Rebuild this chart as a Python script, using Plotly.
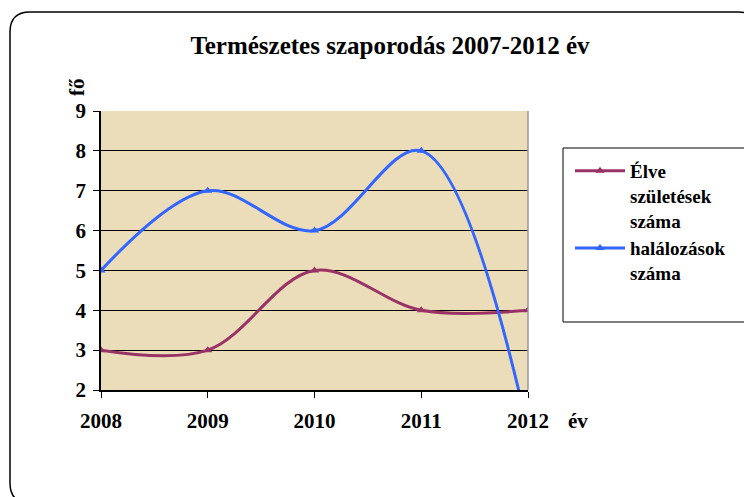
import plotly.graph_objects as go

years = [2008, 2009, 2010, 2011, 2012]
births = [3, 3, 5, 4, 4]
deaths = [5, 7, 6, 8, 1]
series_names = ["<b>Élve<br>születések<br>száma</b>", "<b>halálozások<br>száma</b>"]
y_ticks = [2, 3, 4, 5, 6, 7, 8, 9]

W, H = 752, 497
OFF = 8  # page body margin offset
L, R, T, B = 101 - OFF, 528 - OFF, 111 - OFF, 390 - OFF

def px(x):
    return (x - OFF - L) / (R - L)

def py(y):
    return (B - (y - OFF)) / (B - T)

FONT = "Liberation Serif, Times New Roman, serif"

fig = go.Figure()
fig.add_trace(go.Scatter(
    x=years, y=births, name=series_names[0], mode="lines+markers",
    line=dict(color="#993366", width=3, shape="spline", smoothing=1),
    marker=dict(symbol="triangle-up", size=8, color="#993366"),
))
fig.add_trace(go.Scatter(
    x=years, y=deaths, name=series_names[1], mode="lines+markers",
    line=dict(color="#3366FF", width=3, shape="spline", smoothing=1),
    marker=dict(symbol="triangle-up", size=8, color="#3366FF"),
))

# rounded outer frame
x0, x1, y0, y1, r = 10, 758, 12, 503, 20
path = (f"M {px(x0)},{py(y0 + r)} L {px(x0)},{py(y1 - r)} Q {px(x0)},{py(y1)} {px(x0 + r)},{py(y1)} "
        f"L {px(x1 - r)},{py(y1)} Q {px(x1)},{py(y1)} {px(x1)},{py(y1 - r)} "
        f"L {px(x1)},{py(y0 + r)} Q {px(x1)},{py(y0)} {px(x1 - r)},{py(y0)} "
        f"L {px(x0 + r)},{py(y0)} Q {px(x0)},{py(y0)} {px(x0)},{py(y0 + r)} Z")
fig.add_shape(type="path", path=path, xref="paper", yref="paper",
              line=dict(color="black", width=1.5), layer="below")
# right border of plot area (gray)
fig.add_shape(type="line", xref="paper", yref="paper", x0=1, x1=1, y0=0, y1=1,
              line=dict(color="#9a9a9a", width=1.5))
# legend box
fig.add_shape(type="rect", xref="paper", yref="paper",
              x0=px(563), x1=px(745), y0=py(322), y1=py(148),
              line=dict(color="black", width=1), fillcolor="white", layer="below")

fig.update_layout(
    width=W, height=H,
    margin=dict(l=L, r=W - R, t=T, b=H - B),
    paper_bgcolor="white",
    plot_bgcolor="#EBDCBA",
    title=dict(text="<b>Természetes szaporodás 2007-2012 év</b>",
               x=(390 - OFF) / W, xanchor="center", y=1 - (45 - OFF) / H, yanchor="middle",
               font=dict(family=FONT, size=25, color="black")),
    font=dict(family=FONT, color="black"),
    showlegend=True,
    legend=dict(
        x=px(570), y=py(152), xanchor="left", yanchor="top",
        borderwidth=0, bgcolor="rgba(0,0,0,0)", valign="top",
        font=dict(family=FONT, size=19, color="black"),
        tracegroupgap=2, itemwidth=50,
    ),
    xaxis=dict(
        range=[2008, 2012], tickmode="array", tickvals=years,
        ticktext=[f"<b>{y}</b>" for y in years],
        tickfont=dict(family=FONT, size=21, color="black"),
        ticks="outside", ticklen=6, tickcolor="black",
        showline=True, linecolor="black", linewidth=1.5,
        showgrid=False, zeroline=False, ticklabelstandoff=5,
    ),
    yaxis=dict(
        range=[2, 9], tickmode="array", tickvals=y_ticks,
        ticktext=[f"<b>{v}</b>" for v in y_ticks],
        tickfont=dict(family=FONT, size=21, color="black"),
        ticks="outside", ticklen=6, tickcolor="black",
        showline=True, linecolor="black", linewidth=1.5,
        showgrid=True, gridcolor="black", gridwidth=1, zeroline=False,
        ticklabelstandoff=3,
    ),
    annotations=[
        dict(text="<b>fő</b>", xref="paper", yref="paper", x=px(77), y=py(87),
             showarrow=False, textangle=-90, font=dict(family=FONT, size=21, color="black"),
             xanchor="center", yanchor="middle"),
        dict(text="<b>év</b>", xref="paper", yref="paper", x=px(578), y=py(421),
             showarrow=False, font=dict(family=FONT, size=21, color="black"),
             xanchor="center", yanchor="middle"),
    ],
)

fig.write_html("out.html")
